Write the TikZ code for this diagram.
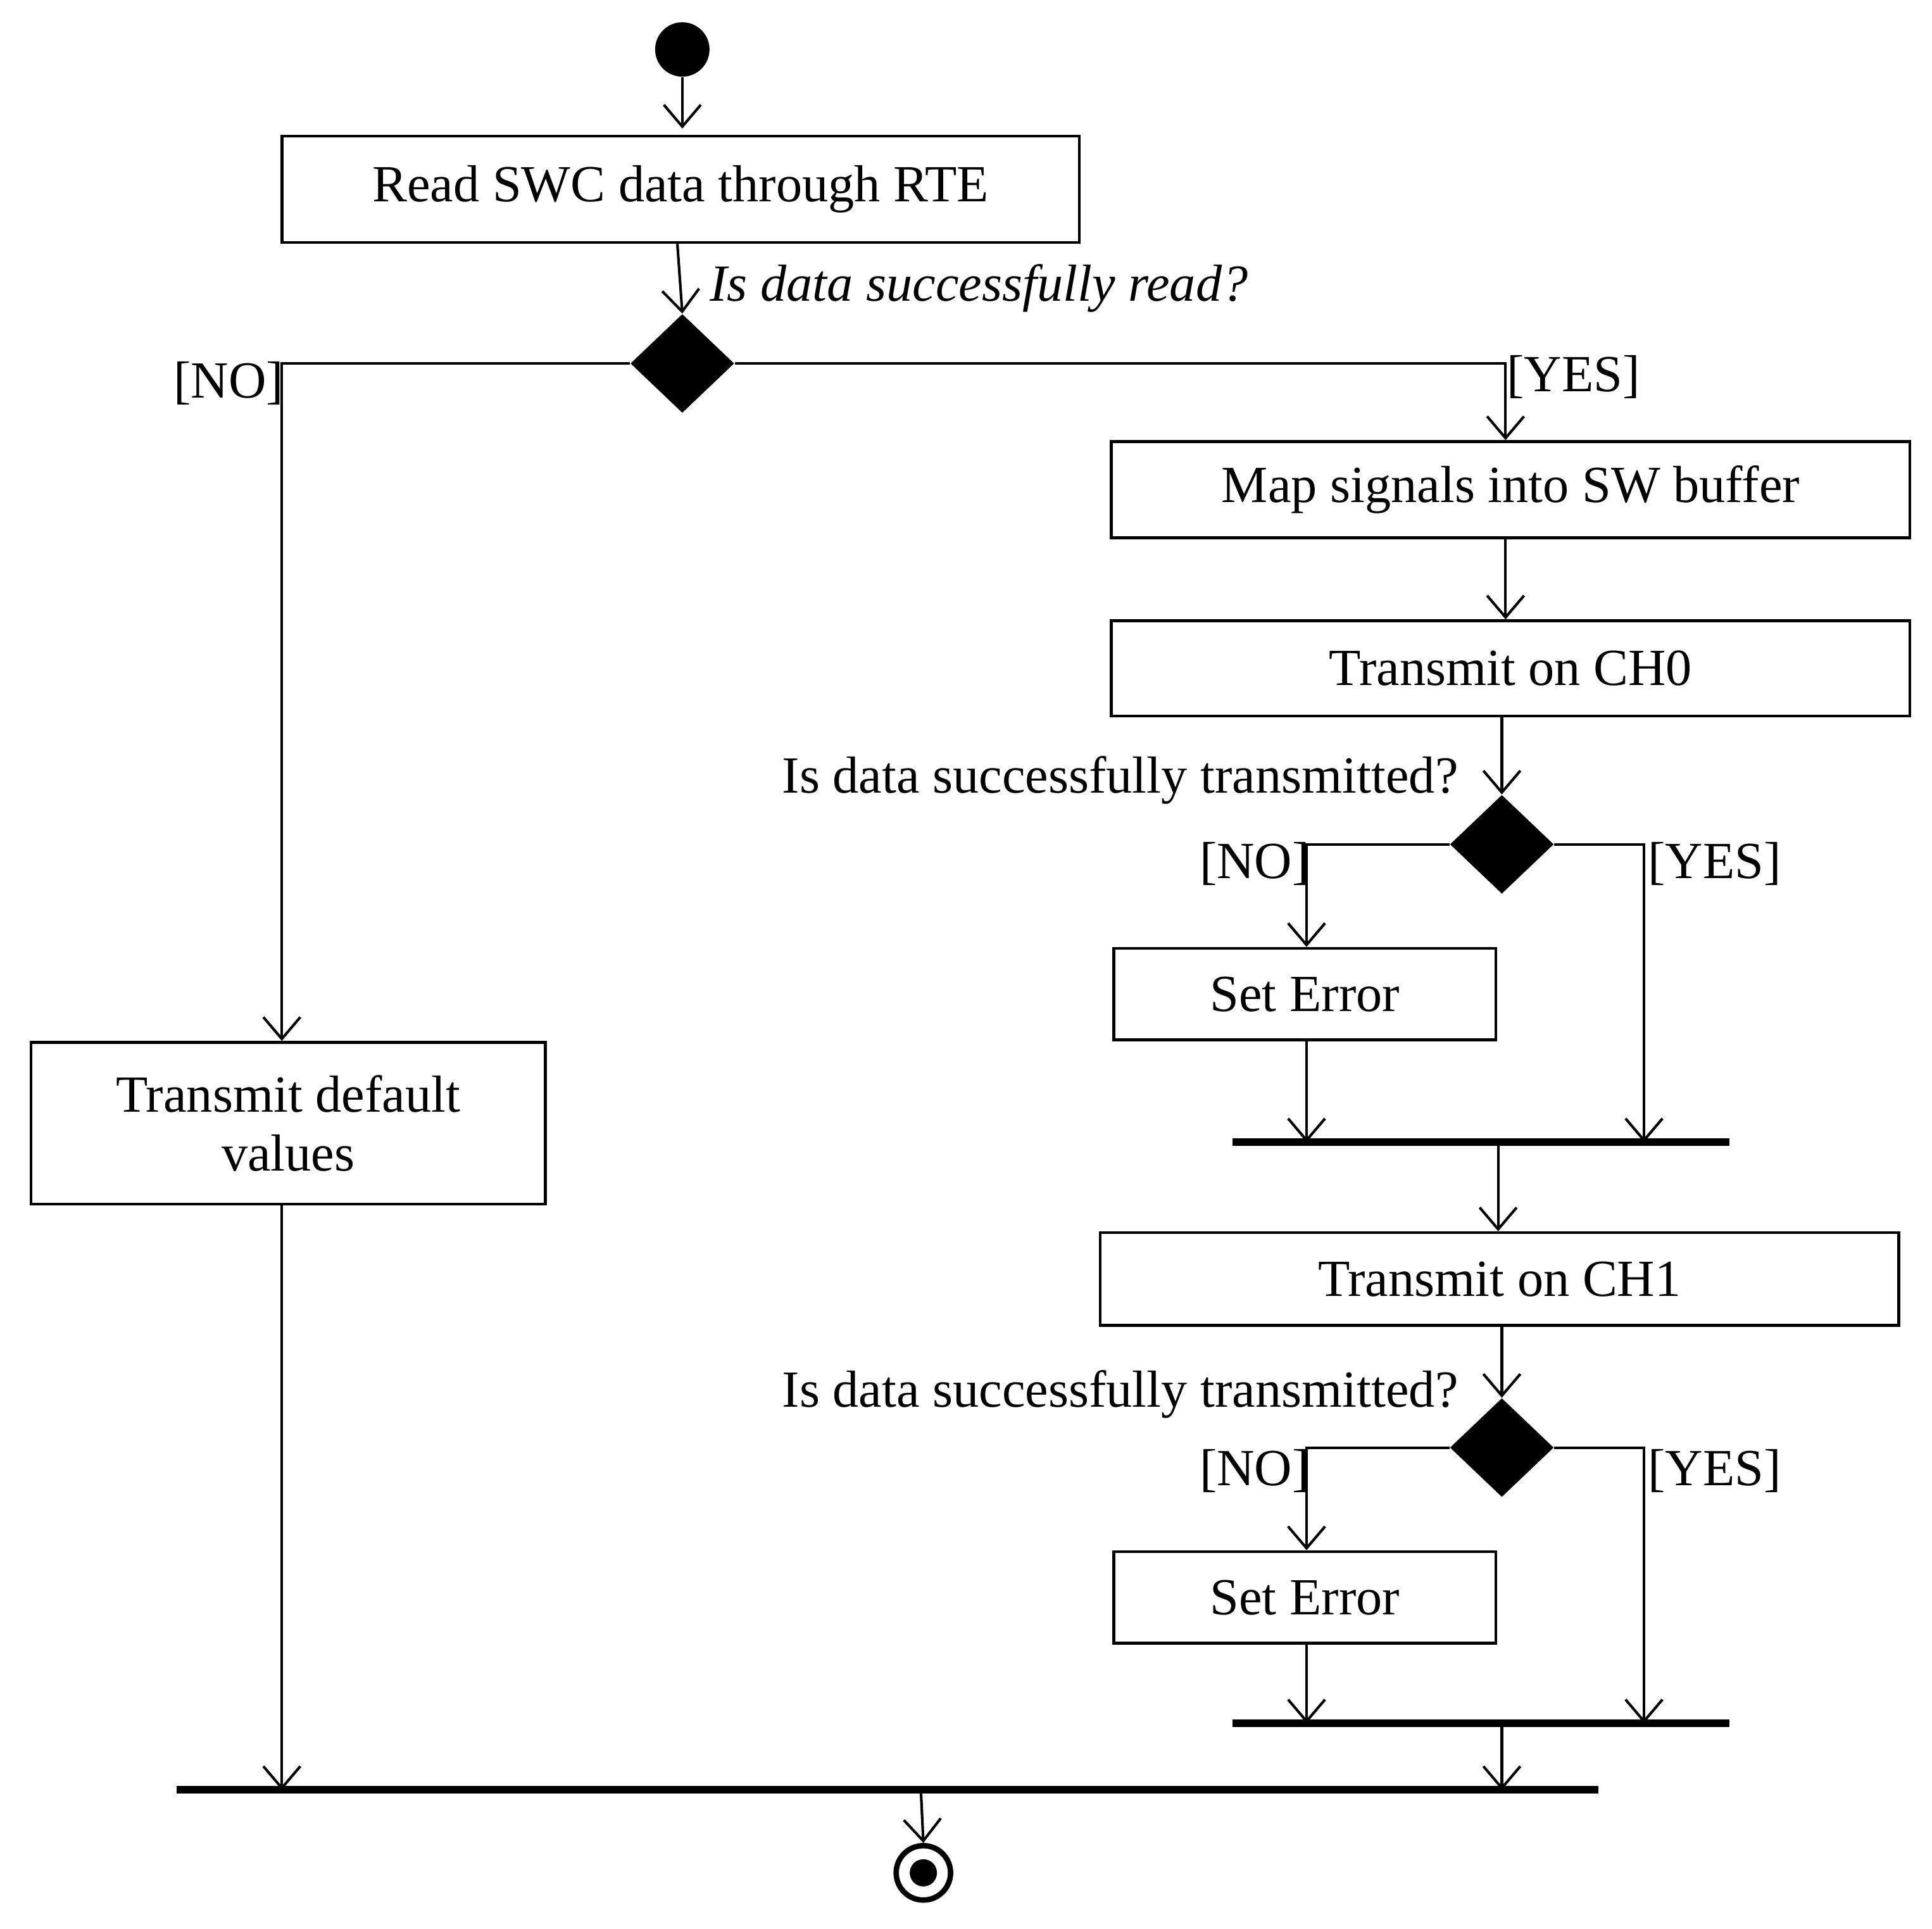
\documentclass[tikz,border=0pt]{standalone}
\usepackage{fontspec}
\setmainfont{Liberation Serif}
\usetikzlibrary{arrows.meta,shapes.geometric}
\begin{document}
\begin{tikzpicture}[x=0.02cm,y=-0.02cm,
  font=\fontsize{24}{27}\selectfont,
  box/.style={draw,line width=1.3pt,inner sep=0pt,anchor=north west},
  dia/.style={diamond,fill=black,draw,minimum width=84\pgflinewidth,inner sep=0pt},
  bar/.style={line width=3.5pt},
  ln/.style={line width=1.2pt},
  ar/.style={ln,-{Straight Barb[length=10pt,width=17pt,line width=1.2pt]}},
  lab/.style={inner sep=0pt}]
\useasboundingbox (0,0) rectangle (1563,1560);
% start
\node[circle,fill=black,minimum size=44*0.02cm,inner sep=0pt] (start) at (552,40) {};
\node[box,minimum width=645*0.02cm,minimum height=86*0.02cm] (read) at (227,109) {};
\node at (read.center) {Read SWC data through RTE};
\node[diamond,fill=black,minimum width=84*0.02cm,minimum height=80*0.02cm,inner sep=0pt] (d1) at (552,294) {};
\draw[ar] (start) -- (552,104);
\draw[ar] (read.south -| 548,0) -- (d1.north);
\node[lab,anchor=west,font=\fontsize{24}{27}\selectfont\itshape] (q1) at (574,233) {Is data successfully read?};
% left branch
\node[box,minimum width=416*0.02cm,minimum height=131*0.02cm] (def) at (24,842) {};
\node[align=center] at (def.center) {Transmit default\\values};
\draw[ar] (d1.west) -| (def.north -| 228,0);
\node[lab] (no1) at (185,310) {[NO]};
% right branch
\node[box,minimum width=646*0.02cm,minimum height=78*0.02cm] (map) at (898,356) {};
\node at (map.center) {Map signals into SW buffer};
\draw[ar] (d1.east) -| (1218,356);
\node[lab] (yes1) at (1273,305) {[YES]};
\node[box,minimum width=646*0.02cm,minimum height=77*0.02cm] (ch0) at (898,501) {};
\node at (ch0.center) {Transmit on CH0};
\draw[ar] (1218,434) -- (1218,501);
\node[diamond,fill=black,minimum width=84*0.02cm,minimum height=80*0.02cm,inner sep=0pt] (d2) at (1215,683) {};
\draw[ar] (1215,578) -- (d2.north);
\node[lab,anchor=east] (q2) at (1180,631) {Is data successfully transmitted?};
\node[box,minimum width=309*0.02cm,minimum height=74*0.02cm] (e1) at (900,766) {};
\node at (e1.center) {Set Error};
\draw[ar] (d2.west) -| (1057,766);
\node[lab] (no2) at (1015,699) {[NO]};
\coordinate (b1l) at (997,924); \coordinate (b1r) at (1399,924);
\draw[bar] (b1l) -- (b1r);
\draw[ar] (d2.east) -| (1330,924);
\node[lab] (yes2) at (1387,699) {[YES]};
\draw[ar] (1057,840) -- (1057,924);
\node[box,minimum width=646*0.02cm,minimum height=75*0.02cm] (ch1) at (889,996) {};
\node at (ch1.center) {Transmit on CH1};
\draw[ar] (1212,924) -- (1212,996);
\node[diamond,fill=black,minimum width=84*0.02cm,minimum height=80*0.02cm,inner sep=0pt] (d3) at (1215,1171) {};
\draw[ar] (1215,1071) -- (d3.north);
\node[lab,anchor=east] (q3) at (1180,1128) {Is data successfully transmitted?};
\node[box,minimum width=309*0.02cm,minimum height=74*0.02cm] (e2) at (900,1254) {};
\node at (e2.center) {Set Error};
\draw[ar] (d3.west) -| (1057,1254);
\node[lab] (no3) at (1015,1190) {[NO]};
\draw[bar] (997,1394) -- (1399,1394);
\draw[ar] (d3.east) -| (1330,1394);
\node[lab] (yes3) at (1387,1190) {[YES]};
\draw[ar] (1057,1328) -- (1057,1394);
% final join
\draw[bar] (143,1448) -- (1293,1448);
\draw[ar] (1215,1394) -- (1215,1448);
\draw[ar] (228,973) -- (228,1448);
\node[circle,draw,line width=2.5pt,minimum size=44*0.02cm,inner sep=0pt] (end) at (747,1515) {};
\fill (end.center) circle (11);
\draw[ar] (745,1448) -- (end.north);
\end{tikzpicture}
\end{document}
